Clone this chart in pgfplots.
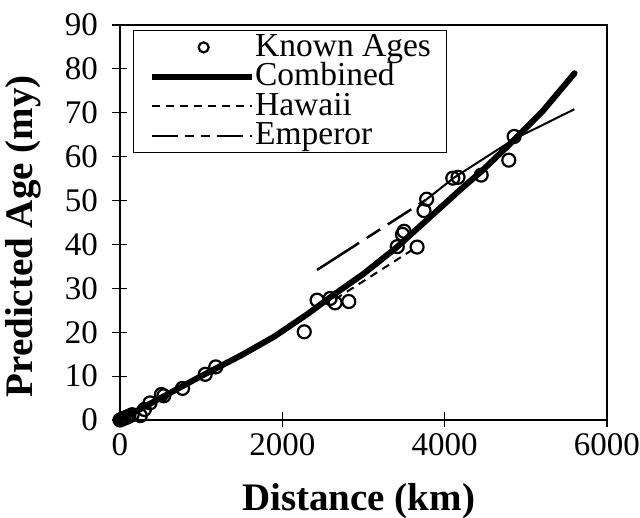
\documentclass[border=0pt]{standalone}
\usepackage{fontspec}
\setmainfont{Liberation Serif}
\usepackage{pgfplots}
\usepackage{pgfplotstable}
\pgfplotsset{compat=1.18}

\pgfplotsset{
    linelegend/.style={legend image code/.code={\draw[##1, line cap=butt] (0pt,0pt) -- (100pt,0pt);}},
    emplegend/.style={legend image code/.code={\draw[##1, line cap=butt,
        dash pattern=on 26pt off 7pt on 9pt off 7pt on 9pt off 7pt] (0pt,0pt) -- (100pt,0pt);}},
    marklegend/.style={legend image code/.code={\path[draw=none] (0pt,0pt) -- (100pt,0pt);
        \draw[##1, mark size=5pt] plot coordinates {(52pt,0pt)};}},
}

% known ages
\pgfplotstableread{
x y
0 0
25 0.2
50 0.4
80 0.6
110 0.9
150 1.2
250 1.0
300 2.4
370 3.9
510 5.8
540 5.5
770 7.2
1050 10.4
1180 12.1
2270 20.1
2428 27.3
2590 27.7
2650 26.7
2819 27.0
3416 39.5
3480 42.3
3500 43.0
3660 39.4
3745 47.7
3778 50.3
4100 55.1
4165 55.3
4450 55.8
4790 59.2
4856 64.6
}\knownages

\begin{document}
\begin{tikzpicture}
\useasboundingbox (-120pt,-98pt) rectangle (520pt,420pt);
\begin{axis}[
    at={(0pt,0pt)}, anchor=south west,
    scale only axis,
    width=487pt,
    height=395pt,
    xmin=0, xmax=6000,
    ymin=0, ymax=90,
    xtick={0,2000,4000,6000},
    ytick={0,10,...,90},
    xtick pos=left,
    ytick pos=left,
    tick align=center,
    major tick length=15pt,
    axis line style={line width=1.3pt},
    every tick/.style={black, line width=1.2pt},
    scaled x ticks=false,
    /pgf/number format/assume math mode=true,
    /pgf/number format/1000 sep={},
    tick label style={font=\fontsize{33}{35}\selectfont},
    xticklabel style={yshift=-3pt},
    yticklabel style={xshift=-11pt},
    xlabel={Distance (km)},
    ylabel={Predicted Age (my)},
    label style={font=\fontsize{39}{41}\selectfont\bfseries},
    xlabel style={at={(axis description cs:0.49,-0.228)}, anchor=base},
    ylabel style={at={(axis description cs:-0.155,0.465)}, anchor=south},
    clip=false,
    legend cell align=left,
    legend style={
        at={(0.027,0.987)}, anchor=north west,
        draw=black, line width=1pt,
        font=\fontsize{33.5}{34}\selectfont,
        inner xsep=15pt, inner ysep=2pt,
        row sep=0pt,
        nodes={inner sep=0.5pt, text height=23pt, text depth=5.5pt},
    },
]
\addplot[only marks, mark=o, mark size=6.5pt, line width=2.2pt, black, marklegend]
    table {\knownages};
\addlegendentry{Known Ages}

\addplot[black, line width=6pt, line cap=round, line join=round, linelegend]
    coordinates {
    (0,0) (250,2.5) (500,5.0) (750,7.5) (1000,10.0) (1250,12.4) (1500,14.8)
    (1900,19.0) (2300,24.0) (2600,28.1) (3000,33.3) (3400,39.2) (3800,45.9)
    (4200,52.6) (4450,56.6) (4800,62.8) (5200,70.2) (5600,79.0)
    };
\addlegendentry{Combined}

\addplot[black, line width=2pt, dash pattern=on 8pt off 6pt, linelegend]
    coordinates {(2650,27.5) (3655,39.4)};
\addlegendentry{Hawaii}

\addplot[black, line width=2.5pt,
    dash pattern=on 50pt off 9pt on 16pt off 9pt on 28pt off 9pt, emplegend]
    coordinates {(2428,34.2) (3765,50.1)};
\addlegendentry{Emperor}

\addplot[black, line width=2pt, forget plot]
    coordinates {(3765,50.1) (4115,55.2) (4856,64.0) (5597,70.8)};
\end{axis}
\end{tikzpicture}
\end{document}
